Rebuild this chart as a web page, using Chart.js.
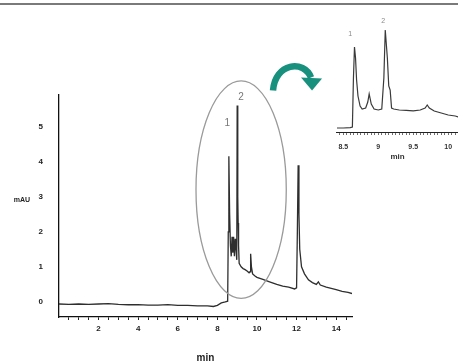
<!DOCTYPE html>
<html>
<head>
<meta charset="utf-8">
<script src="https://cdn.jsdelivr.net/npm/chart.js@4.4.1/dist/chart.umd.min.js"></script>
<style>
  html, body { margin: 0; padding: 0; background: #fff; }
  #wrap { position: relative; width: 458px; height: 364px; overflow: hidden; background: #fff; }
  #topline { position: absolute; left: 0; top: 3px; width: 458px; height: 2px; background: #7a7a7a; }
  #main { position: absolute; left: 0; top: 0; }
  #inset { position: absolute; left: 300px; top: 0; }
</style>
</head>
<body>
<div id="wrap">
  <div id="topline"></div>
  <canvas id="main" width="458" height="364"></canvas>
  <canvas id="inset" width="158" height="170"></canvas>
</div>
<script>
// ---- Main chromatogram data (time in min, absorbance in mAU) ----
const mainTimes = [0.0, 0.5, 1.0, 1.5, 2.0, 2.5, 3.0, 3.5, 4.0, 4.5, 5.0, 5.5, 6.0, 6.5, 7.0, 7.5, 7.8, 8.0, 8.2, 8.4,
  8.52, 8.55, 8.58, 8.62, 8.66, 8.7, 8.74, 8.78, 8.82, 8.86, 8.9, 8.94, 8.98, 9.0, 9.03, 9.05, 9.07, 9.1,
  9.2, 9.3, 9.4, 9.5, 9.6, 9.65, 9.68, 9.72, 9.78, 9.9, 10.0, 10.3, 10.6, 11.0, 11.3, 11.6, 11.9,
  12.0, 12.04, 12.08, 12.12, 12.16, 12.25, 12.4, 12.6, 12.8, 13.0, 13.1, 13.2, 13.5, 13.8, 14.0, 14.3, 14.6, 14.8];
const mainValues = [-0.06, -0.07, -0.06, -0.07, -0.06, -0.05, -0.07, -0.08, -0.08, -0.09, -0.09, -0.08, -0.10, -0.10, -0.11, -0.11, -0.13, -0.10, -0.03, 0.00,
  0.02, 2.00, 4.15, 2.50, 1.60, 1.30, 1.86, 1.40, 1.86, 1.30, 1.80, 1.50, 1.20, 5.60, 3.00, 2.25, 1.60, 1.10,
  1.00, 0.95, 0.92, 0.88, 0.83, 0.86, 1.37, 1.00, 0.80, 0.74, 0.70, 0.64, 0.58, 0.50, 0.45, 0.42, 0.37,
  0.40, 2.00, 3.90, 2.50, 1.50, 1.00, 0.80, 0.63, 0.55, 0.50, 0.57, 0.48, 0.42, 0.38, 0.35, 0.30, 0.27, 0.24];
const yTickValues = [0, 1, 2, 3, 4, 5];
const xTickLabels = [2, 4, 6, 8, 10, 12, 14];
const peakLabels = [{ t: 8.5, v: 5.1, text: '1' }, { t: 9.2, v: 5.85, text: '2' }];

// ---- Inset (zoom of 8.4 - 10.1 min) ----
const insetTimes = [8.41, 8.5, 8.6, 8.63, 8.645, 8.66, 8.675, 8.69, 8.71, 8.74, 8.77, 8.82, 8.85, 8.87, 8.9, 8.94,
  9.0, 9.05, 9.08, 9.1, 9.13, 9.15, 9.17, 9.19, 9.22, 9.3, 9.4, 9.5, 9.6, 9.67, 9.7, 9.73, 9.8, 9.9, 10.0, 10.1, 10.15];
const insetValues = [0.0, 0.0, 0.02, 0.05, 2.5, 4.05, 3.5, 2.4, 1.6, 1.1, 0.95, 1.0, 1.3, 1.7, 1.2, 0.95,
  0.9, 0.95, 2.5, 4.9, 3.5, 2.1, 1.9, 1.0, 0.95, 0.9, 0.88, 0.86, 0.9, 1.0, 1.15, 1.0, 0.85, 0.75, 0.65, 0.6, 0.55];
const insetTickLabels = [8.5, 9, 9.5, 10];
const insetPeakLabels = [{ t: 8.6, v: 4.7, text: '1' }, { t: 9.07, v: 5.35, text: '2' }];

const FONT = '"Liberation Sans", Arial, sans-serif';
const lineColor = '#2e2e2e';

function toPoints(xs, ys) { return xs.map((x, i) => ({ x: x, y: ys[i] })); }

// Overlay decorations: ellipse around peaks, arrow, peak numbers
const mainDeco = {
  id: 'mainDeco',
  afterDatasetsDraw(chart) {
    const ctx = chart.ctx, xs = chart.scales.x, ys = chart.scales.y;
    ctx.save();
    // ellipse
    const cx = xs.getPixelForValue(9.2), cy = ys.getPixelForValue(3.2);
    const rx = xs.getPixelForValue(9.2 + 2.28) - cx, ry = ys.getPixelForValue(3.2) - ys.getPixelForValue(6.3);
    ctx.beginPath();
    ctx.ellipse(cx, cy, rx, ry, 0, 0, Math.PI * 2);
    ctx.strokeStyle = '#9a9a9a';
    ctx.lineWidth = 1.3;
    ctx.stroke();
    // peak numbers
    ctx.fillStyle = '#777';
    ctx.font = '10px ' + FONT;
    ctx.textAlign = 'center';
    ctx.textBaseline = 'middle';
    peakLabels.forEach(p => ctx.fillText(p.text, xs.getPixelForValue(p.t), ys.getPixelForValue(p.v)));
    // curved teal arrow
    const ax = xs.getPixelForValue(11.67), ay = ys.getPixelForValue(6.74);
    ctx.strokeStyle = '#17907e';
    ctx.fillStyle = '#17907e';
    ctx.lineWidth = 6.5;
    ctx.lineCap = 'butt';
    ctx.beginPath();
    ctx.moveTo(ax - 17, ay + 25);
    ctx.bezierCurveTo(ax - 15, ay - 3, ax + 14, ay - 6, ax + 21, ay + 12);
    ctx.stroke();
    ctx.beginPath();
    ctx.moveTo(ax + 11, ay + 12);
    ctx.lineTo(ax + 32, ay + 13);
    ctx.lineTo(ax + 22, ay + 25);
    ctx.closePath();
    ctx.fill();
    ctx.restore();
  }
};

new Chart(document.getElementById('main'), {
  type: 'scatter',
  data: {
    datasets: [{
      data: toPoints(mainTimes, mainValues),
      showLine: true,
      borderColor: lineColor,
      borderWidth: 1.3,
      pointRadius: 0,
      tension: 0
    }]
  },
  options: {
    responsive: false,
    animation: false,
    events: [],
    layout: { padding: { left: 0, top: 95, right: 106, bottom: 0 } },
    plugins: { legend: { display: false }, tooltip: { enabled: false } },
    scales: {
      x: {
        type: 'linear', min: 0, max: 14.8,
        afterFit(s) { s.height = 47; s.paddingLeft = 0; s.paddingRight = 0; },
        afterBuildTicks(s) {
          const t = [];
          for (let v = 0.5; v <= 14.6; v += 0.5) t.push({ value: Math.round(v * 10) / 10 });
          s.ticks = t;
        },
        grid: { display: true, drawOnChartArea: false, tickLength: 3, color: '#222', lineWidth: 1 },
        border: { display: true, color: '#111', width: 1.3 },
        ticks: {
          autoSkip: false, maxRotation: 0, padding: 4,
          color: '#222', font: { family: FONT, size: 8, weight: 'bold' },
          callback: v => (xTickLabels.includes(v) ? String(v) : '')
        },
        title: { display: true, text: 'min', color: '#222', font: { family: FONT, size: 10, weight: 'bold' }, padding: { top: 0, bottom: 0 } }
      },
      y: {
        type: 'linear', min: -0.43, max: 5.9,
        afterFit(s) { s.width = 59; s.paddingTop = 0; s.paddingBottom = 0; },
        afterBuildTicks(s) { s.ticks = yTickValues.map(v => ({ value: v })); },
        grid: { display: false, drawTicks: false },
        border: { display: true, color: '#111', width: 1.3 },
        ticks: { padding: 16, color: '#222', font: { family: FONT, size: 8, weight: 'bold' } }
      }
    }
  },
  plugins: [mainDeco, {
    id: 'yTitle',
    afterDraw(chart) {
      const ctx = chart.ctx, ys = chart.scales.y;
      ctx.save();
      ctx.fillStyle = '#222';
      ctx.font = 'bold 7px ' + FONT;
      ctx.textAlign = 'center';
      ctx.textBaseline = 'middle';
      ctx.fillText('mAU', 22, ys.getPixelForValue(2.9));
      ctx.restore();
    }
  }]
});

const insetDeco = {
  id: 'insetDeco',
  afterDatasetsDraw(chart) {
    const ctx = chart.ctx, xs = chart.scales.x, ys = chart.scales.y;
    ctx.save();
    ctx.fillStyle = '#8a8a8a';
    ctx.font = '7px ' + FONT;
    ctx.textAlign = 'center';
    ctx.textBaseline = 'middle';
    insetPeakLabels.forEach(p => ctx.fillText(p.text, xs.getPixelForValue(p.t), ys.getPixelForValue(p.v)));
    ctx.restore();
  }
};

new Chart(document.getElementById('inset'), {
  type: 'scatter',
  data: {
    datasets: [{
      data: toPoints(insetTimes, insetValues),
      showLine: true,
      borderColor: '#3a3a3a',
      borderWidth: 1.2,
      pointRadius: 0,
      tension: 0
    }]
  },
  options: {
    responsive: false,
    animation: false,
    events: [],
    layout: { padding: { left: 37, top: 20, right: 0, bottom: 0 } },
    plugins: { legend: { display: false }, tooltip: { enabled: false } },
    scales: {
      x: {
        type: 'linear', min: 8.41, max: 10.14,
        afterFit(s) { s.height = 37; s.paddingLeft = 0; s.paddingRight = 0; },
        afterBuildTicks(s) {
          const t = [];
          for (let k = 169; k <= 202; k++) t.push({ value: k / 20 });
          s.ticks = t;
        },
        grid: { display: true, drawOnChartArea: false, tickLength: 2, color: '#444', lineWidth: 0.8 },
        border: { display: true, color: '#222', width: 1.1 },
        ticks: {
          autoSkip: false, maxRotation: 0, padding: 8,
          color: '#333', font: { family: FONT, size: 7, weight: 'bold' },
          callback: v => (insetTickLabels.includes(v) ? String(v) : '')
        },
        title: { display: true, text: 'min', color: '#333', font: { family: FONT, size: 8, weight: 'bold' }, padding: { top: 0, bottom: 8 } }
      },
      y: {
        type: 'linear', min: -0.25, max: 5.4, display: false
      }
    }
  },
  plugins: [insetDeco]
});
</script>
</body>
</html>
